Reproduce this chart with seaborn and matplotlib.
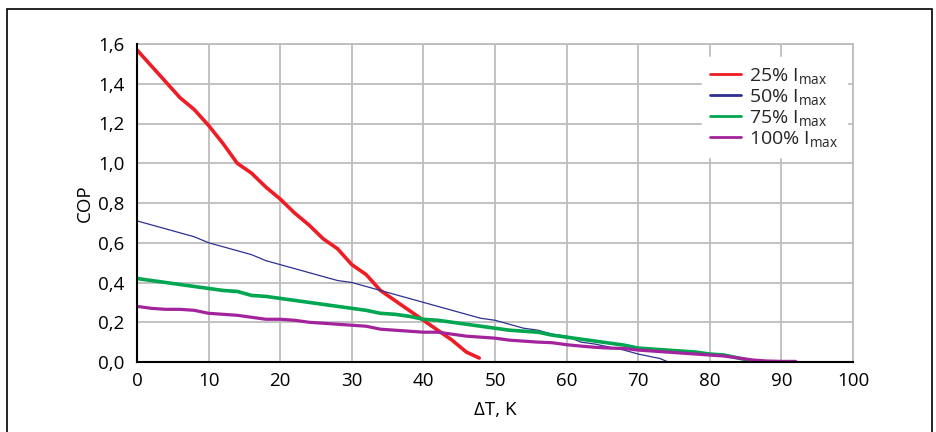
import matplotlib
matplotlib.use("Agg")
import matplotlib.pyplot as plt
import seaborn as sns
import pandas as pd
from matplotlib.ticker import FuncFormatter
from matplotlib.patches import Rectangle

# ---- data ----
x_25 = [0, 2, 4, 6, 8, 10, 12, 14, 16, 18, 20, 22, 24, 26, 28, 30, 32, 34, 36, 38, 40, 42, 44, 46, 47.8]
cop_25 = [1.57, 1.49, 1.41, 1.33, 1.27, 1.19, 1.10, 1.00, 0.95, 0.88, 0.82, 0.75, 0.69, 0.62, 0.57, 0.49,
          0.44, 0.36, 0.31, 0.26, 0.21, 0.16, 0.11, 0.05, 0.02]

x_50 = [0, 2, 4, 6, 8, 10, 12, 14, 16, 18, 20, 22, 24, 26, 28, 30, 32, 34, 36, 38, 40, 42, 44, 46, 48,
        50, 52, 54, 56, 58, 60, 62, 64, 66, 68, 70, 72, 73, 74.2]
cop_50 = [0.71, 0.69, 0.67, 0.65, 0.63, 0.60, 0.58, 0.56, 0.54, 0.51, 0.49, 0.47, 0.45, 0.43, 0.41, 0.40,
          0.38, 0.36, 0.34, 0.32, 0.30, 0.28, 0.26, 0.24, 0.22, 0.21, 0.19, 0.17, 0.16, 0.14, 0.13, 0.10,
          0.09, 0.075, 0.06, 0.04, 0.025, 0.018, 0.0]

x_75 = [0, 2, 4, 6, 8, 10, 12, 14, 16, 18, 20, 22, 24, 26, 28, 30, 32, 34, 36, 38, 40, 42, 44, 46, 48,
        50, 52, 54, 56, 58, 60, 62, 64, 66, 68, 70, 72, 74, 76, 78, 80, 82, 84, 86, 86.7]
cop_75 = [0.42, 0.41, 0.40, 0.39, 0.38, 0.37, 0.36, 0.355, 0.335, 0.33, 0.32, 0.31, 0.30, 0.29, 0.28,
          0.27, 0.26, 0.245, 0.24, 0.23, 0.215, 0.21, 0.20, 0.19, 0.18, 0.17, 0.16, 0.155, 0.15, 0.135,
          0.125, 0.115, 0.105, 0.095, 0.085, 0.07, 0.065, 0.06, 0.055, 0.05, 0.04, 0.035, 0.02, 0.005, 0.0]

x_100 = [0, 2, 4, 6, 8, 10, 12, 14, 16, 18, 20, 22, 24, 26, 28, 30, 32, 34, 36, 38, 40, 42, 44, 46, 48,
         50, 52, 54, 56, 58, 60, 62, 64, 66, 68, 70, 72, 74, 76, 78, 80, 82, 84, 86, 88, 90, 92]
cop_100 = [0.28, 0.27, 0.265, 0.265, 0.26, 0.245, 0.24, 0.235, 0.225, 0.215, 0.215, 0.21, 0.20, 0.195,
           0.19, 0.185, 0.18, 0.165, 0.16, 0.155, 0.15, 0.15, 0.14, 0.13, 0.125, 0.12, 0.11, 0.105, 0.10,
           0.097, 0.087, 0.08, 0.074, 0.07, 0.068, 0.06, 0.055, 0.05, 0.045, 0.04, 0.035, 0.03, 0.02,
           0.01, 0.005, 0.003, 0.003]

labels = ["25%", "50%", "75%", "100%"]
x_ticks = [0, 10, 20, 30, 40, 50, 60, 70, 80, 90, 100]
y_ticks = [0.0, 0.2, 0.4, 0.6, 0.8, 1.0, 1.2, 1.4, 1.6]

# ---- styling ----
sns.set_theme(style="white")
FONT = "Open Sans"
plt.rcParams["font.family"] = [FONT, "DejaVu Sans"]
plt.rcParams["mathtext.fontset"] = "custom"
plt.rcParams["mathtext.rm"] = FONT
plt.rcParams["mathtext.it"] = FONT

colors = ["#ee1c25", "#2e3192", "#00a650", "#a3239c"]
widths = [2.6, 0.9, 2.6, 2.3]
FS = 13.5

fig = plt.figure(figsize=(9.36, 4.32), dpi=100)
ax = fig.add_axes([137 / 936, 70 / 432, 716 / 936, 318 / 432])

series = [(x_25, cop_25), (x_50, cop_50), (x_75, cop_75), (x_100, cop_100)]
for (xs, ys), lab, c, w in zip(series, labels, colors, widths):
    df = pd.DataFrame({"dT": xs, "COP": ys})
    sns.lineplot(data=df, x="dT", y="COP", ax=ax, color=c, lw=w, sort=False,
                 estimator=None, label=lab + r" I$_{\mathrm{max}}$", zorder=3)

ax.set_xlim(0, 100)
ax.set_ylim(0, 1.6)
ax.set_xticks(x_ticks)
ax.set_yticks(y_ticks)
ax.yaxis.set_major_formatter(FuncFormatter(lambda v, p: f"{v:.1f}".replace(".", ",")))
ax.xaxis.set_major_formatter(FuncFormatter(lambda v, p: f"{int(v)}"))
ax.grid(True, color="#bdbdbd", lw=1.3, zorder=0)
ax.set_axisbelow(True)
ax.tick_params(length=0, labelsize=FS, colors="black")
ax.tick_params(axis="y", pad=9)
ax.tick_params(axis="x", pad=7)

for s in ["top", "right"]:
    ax.spines[s].set_color("#bdbdbd")
    ax.spines[s].set_linewidth(1.3)
for s in ["left", "bottom"]:
    ax.spines[s].set_color("black")
    ax.spines[s].set_linewidth(1.5)
    ax.spines[s].set_zorder(4)

ax.set_xlabel("ΔT, K", fontsize=FS, labelpad=8, color="black")
ax.set_ylabel("COP", fontsize=FS, labelpad=3, color="black")

leg = ax.legend(loc="upper left", bbox_to_anchor=(0.775, 0.99), frameon=True,
                fontsize=FS + 0.5, handlelength=1.6, labelspacing=0.05, handletextpad=0.4,
                borderpad=0.45, fancybox=False)
leg.get_frame().set_facecolor("white")
leg.get_frame().set_edgecolor("white")
leg.get_frame().set_alpha(1)
leg.set_zorder(5)
for h in leg.get_lines():
    h.set_linewidth(2.0)

# outer frame around the figure (bottom edge runs off the image)
fig.patches.append(Rectangle((7 / 936, -0.05), 925 / 936, (432 - 9) / 432 + 0.05,
                             transform=fig.transFigure, fill=False, edgecolor="black",
                             lw=1.2, clip_on=False))

fig.savefig("out.png", dpi=100)
